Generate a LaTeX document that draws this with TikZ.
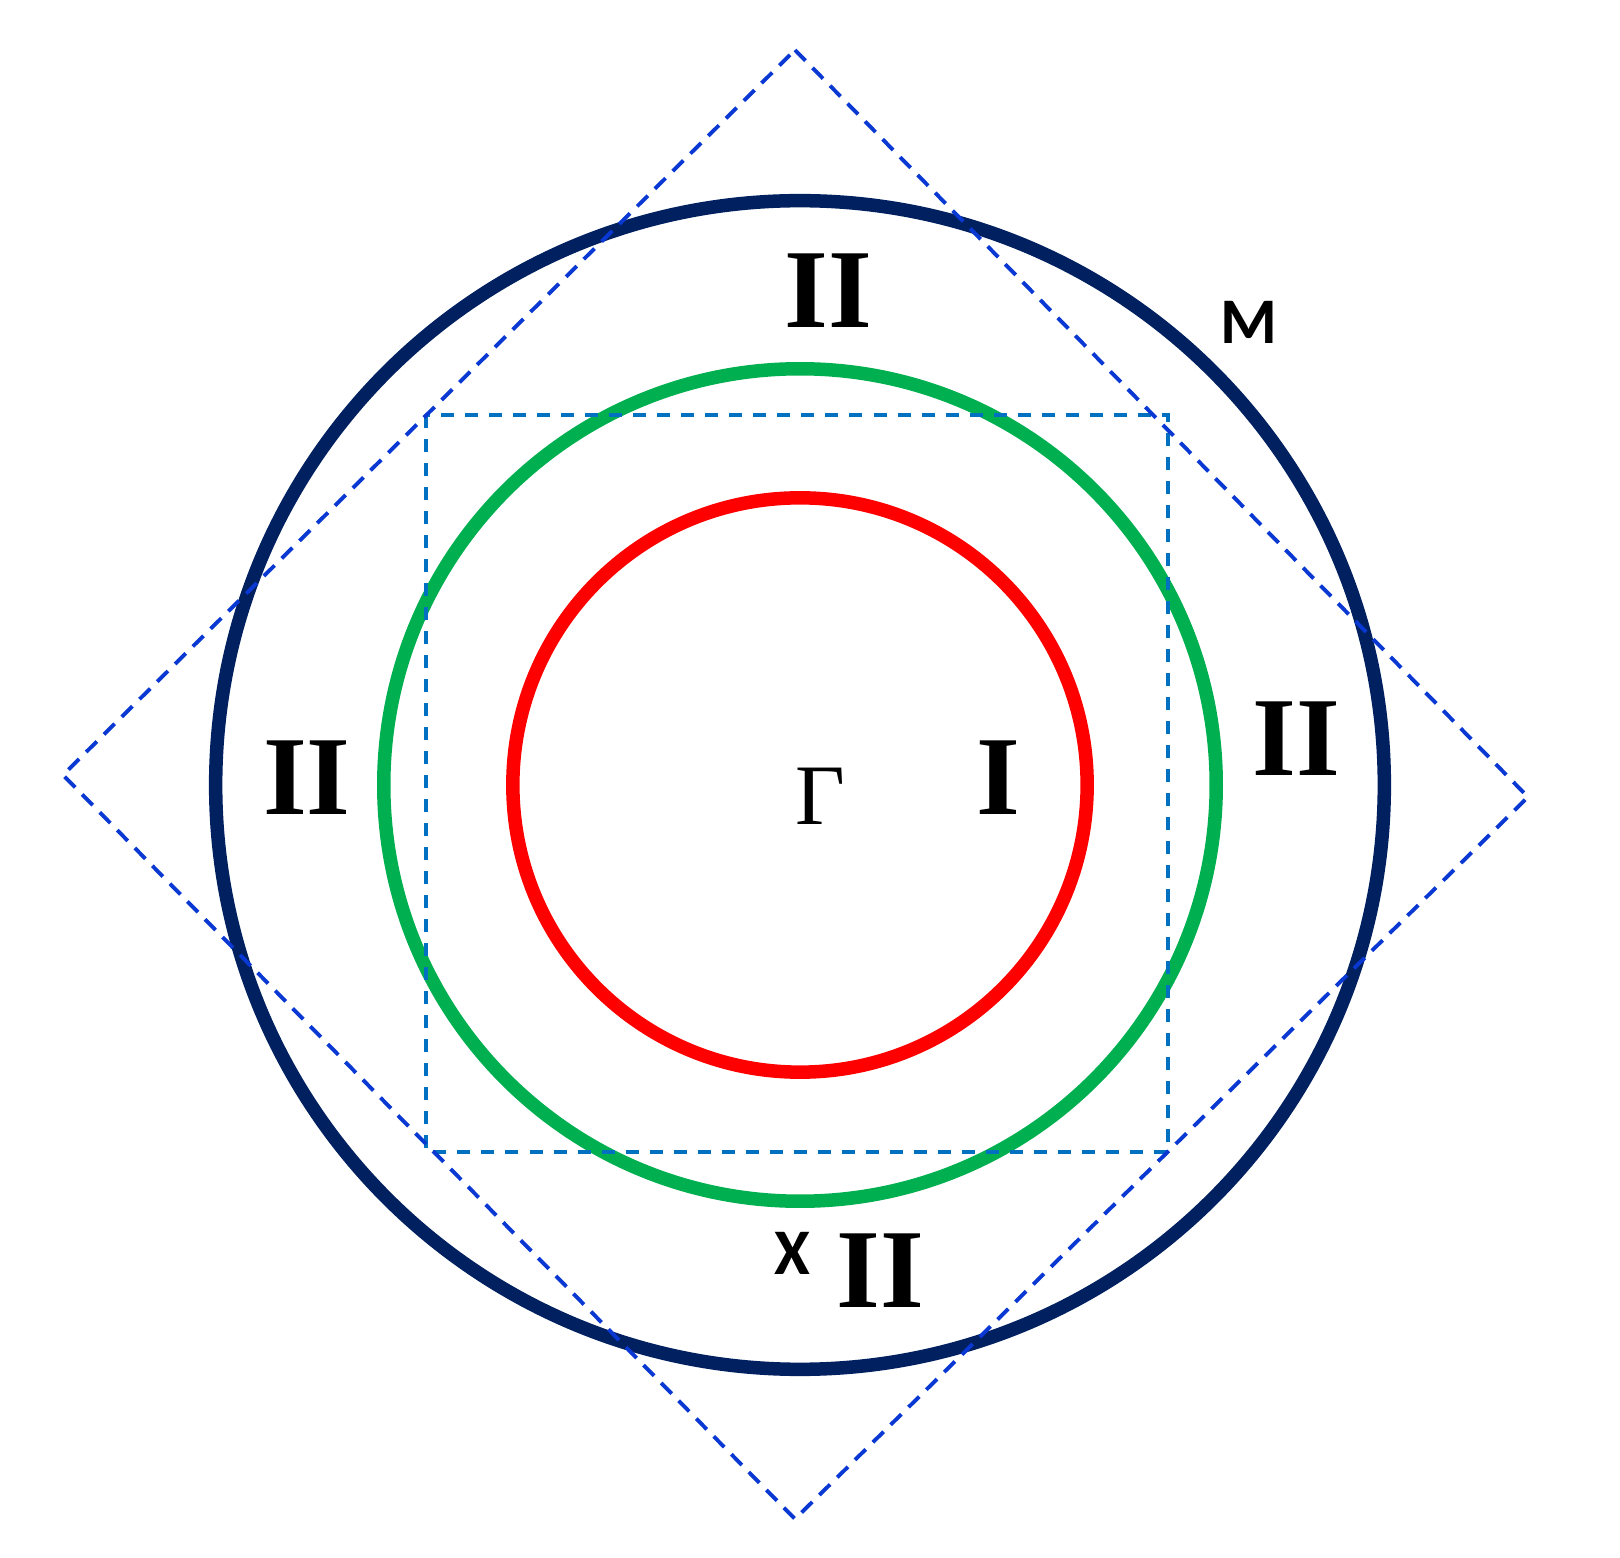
\documentclass[tikz,border=0pt]{standalone}
\usepackage{fontspec}
\setmainfont{Liberation Serif}
\newfontfamily\pointfont{Carlito}
\usepackage{xcolor}
\usetikzlibrary{calc}
\definecolor{ZoneNavy}{HTML}{002060}
\definecolor{ZoneGreen}{HTML}{00B050}
\definecolor{ZoneRed}{HTML}{FF0000}
\definecolor{CellBlue}{HTML}{0070C0}
\definecolor{EdgeBlue}{HTML}{0A38D2}

\begin{document}
\begin{tikzpicture}[x=0.01cm, y=-0.01cm,
  ring/.style={line width=0.135cm},
  zonelabel/.style={inner sep=0pt, font=\fontsize{32}{32}\selectfont\bfseries},
  pointlabel/.style={inner sep=0pt, font=\pointfont\fontsize{18.5}{18.5}\selectfont\bfseries}]
\useasboundingbox (0,0) rectangle (1620,1558);
\coordinate (G) at (800,785);
% Brillouin zone rings
\draw[ring, ZoneRed] (G) circle[radius=2.87cm];
\draw[ring, ZoneGreen] (G) circle[radius=4.16cm];
\draw[ring, ZoneNavy] (G) circle[radius=5.84cm];
% first zone square and second zone diamond
\draw[CellBlue, line width=1.1pt, dash pattern=on 0.13cm off 0.11cm] (426,415) rectangle (1168,1152);
\coordinate (top) at (795,50);
\coordinate (right) at (1528,797);
\coordinate (bottom) at (795,1519);
\coordinate (left) at (63,775);
\draw[EdgeBlue, line width=1.1pt, dash pattern=on 0.15cm off 0.1cm] (top) -- (right) -- (bottom) -- (left) -- cycle;
% labels
\node[font=\fontsize{24.5}{24.5}\selectfont, inner sep=0pt] (Gamma) at (820,796) {Γ};
\node[zonelabel] (zoneI) at (998,777.5) {I};
\node[zonelabel] (zoneIItop) at (828.6,290.8) {II};
\node[zonelabel] (zoneIIright) at (1296.7,738.2) {II};
\node[zonelabel] (zoneIIleft) at (306.9,777.5) {II};
\node[zonelabel] (zoneIIbottom) at (880.5,1271) {II};
\node[pointlabel] (M) at (1249,322) {M};
\node[pointlabel] (X) at (792,1253.5) {X};
\end{tikzpicture}
\end{document}
